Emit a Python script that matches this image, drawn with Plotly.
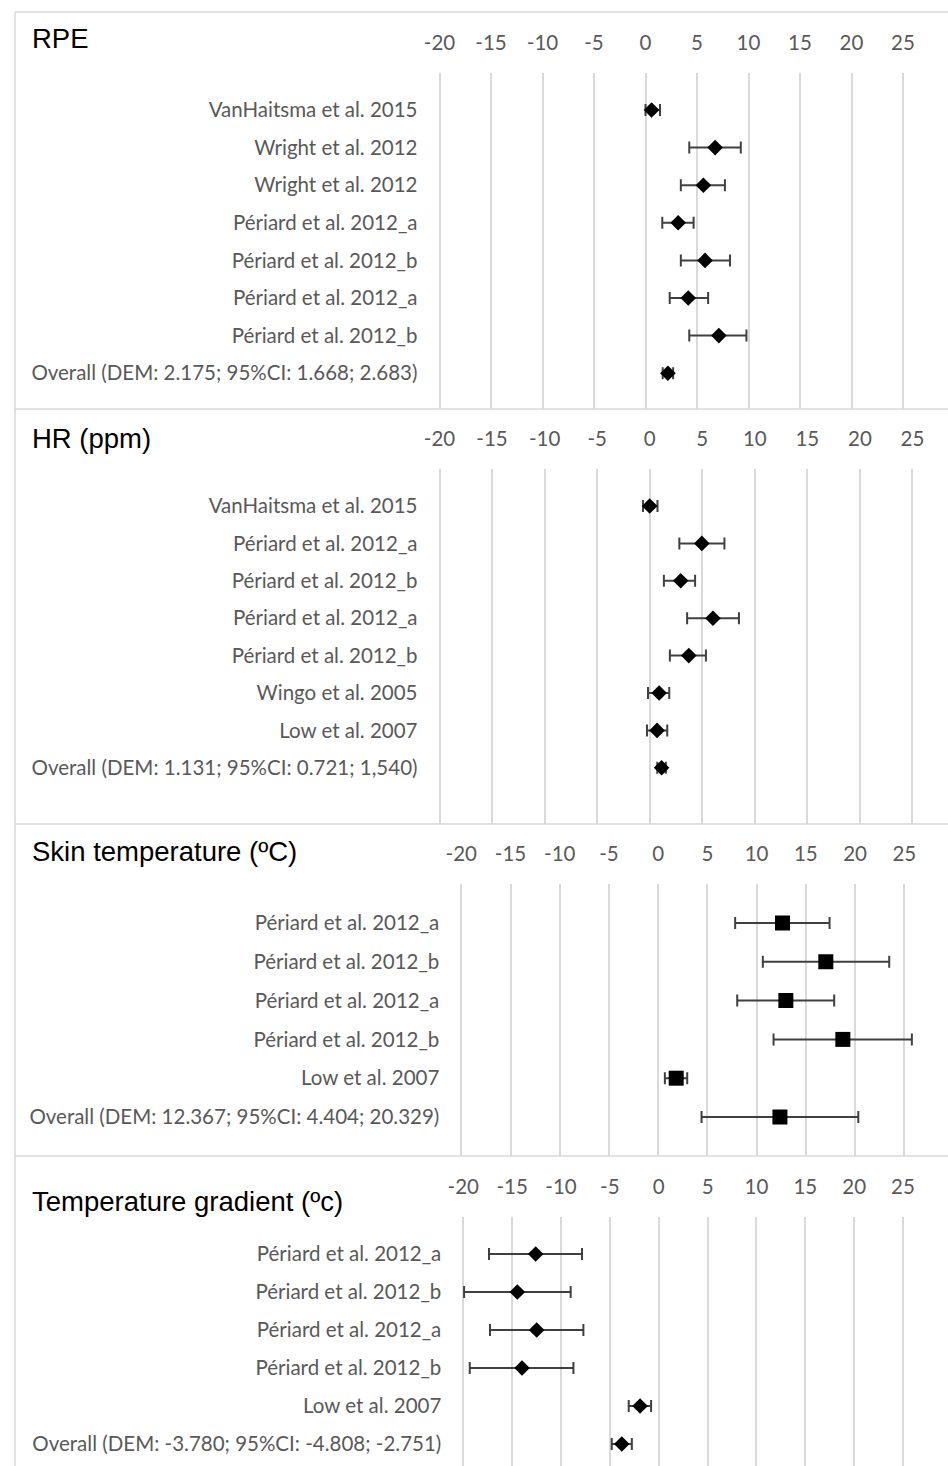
import plotly.graph_objects as go

W, H = 948, 1466

# ---------------- data ----------------
rpe_labels = ["VanHaitsma et al. 2015", "Wright et al. 2012", "Wright et al. 2012",
              "Périard et al. 2012_a", "Périard et al. 2012_b", "Périard et al. 2012_a",
              "Périard et al. 2012_b", "Overall (DEM: 2.175; 95%CI: 1.668; 2.683)"]
rpe_est = [0.59, 6.76, 5.62, 3.17, 5.78, 4.15, 7.12, 2.175]
rpe_lo = [0.0, 4.25, 3.43, 1.63, 3.43, 2.35, 4.25, 1.668]
rpe_hi = [1.41, 9.25, 7.71, 4.67, 8.20, 6.08, 9.80, 2.683]

hr_labels = ["VanHaitsma et al. 2015", "Périard et al. 2012_a", "Périard et al. 2012_b",
             "Périard et al. 2012_a", "Périard et al. 2012_b", "Wingo et al. 2005",
             "Low et al. 2007", "Overall (DEM: 1.131; 95%CI: 0.721; 1,540)"]
hr_est = [0.0, 4.96, 2.95, 6.02, 3.72, 0.90, 0.70, 1.131]
hr_lo = [-0.64, 2.82, 1.35, 3.56, 1.92, -0.16, -0.26, 0.721]
hr_hi = [0.74, 7.11, 4.32, 8.49, 5.35, 1.86, 1.67, 1.540]

skin_labels = ["Périard et al. 2012_a", "Périard et al. 2012_b", "Périard et al. 2012_a",
               "Périard et al. 2012_b", "Low et al. 2007",
               "Overall (DEM: 12.367; 95%CI: 4.404; 20.329)"]
skin_est = [12.63, 17.03, 12.97, 18.76, 1.83, 12.367]
skin_lo = [7.82, 10.63, 8.03, 11.72, 0.68, 4.404]
skin_hi = [17.41, 23.47, 17.88, 25.77, 2.95, 20.329]

grad_labels = ["Périard et al. 2012_a", "Périard et al. 2012_b", "Périard et al. 2012_a",
               "Périard et al. 2012_b", "Low et al. 2007",
               "Overall (DEM: -3.780; 95%CI: -4.808; -2.751)"]
grad_est = [-12.59, -14.47, -12.49, -13.99, -1.91, -3.780]
grad_lo = [-17.37, -19.92, -17.27, -19.34, -3.07, -4.808]
grad_hi = [-7.85, -9.01, -7.71, -8.73, -0.78, -2.751]

tick_vals = [-20, -15, -10, -5, 0, 5, 10, 15, 20, 25]
titles = ["RPE", "HR (ppm)", "Skin temperature (ºC)", "Temperature gradient (ºc)"]

# ---------------- layout geometry (pixels) ----------------
panels = [
    dict(labels=rpe_labels, est=rpe_est, lo=rpe_lo, hi=rpe_hi, symbol="diamond", msize=12,
         x20=439.5, ppu=10.30, top=72.7, bottom=409, row0=110, step=37.6, title_y=38),
    dict(labels=hr_labels, est=hr_est, lo=hr_lo, hi=hr_hi, symbol="diamond", msize=12,
         x20=439.5, ppu=10.51, top=469, bottom=824, row0=506, step=37.4, title_y=439),
    dict(labels=skin_labels, est=skin_est, lo=skin_lo, hi=skin_hi, symbol="square", msize=15,
         x20=461.3, ppu=9.844, top=884.3, bottom=1156, row0=923, step=38.8, title_y=851),
    dict(labels=grad_labels, est=grad_est, lo=grad_lo, hi=grad_hi, symbol="diamond", msize=12,
         x20=463.3, ppu=9.771, top=1216.7, bottom=1466, row0=1254, step=38.0, title_y=1201),
]

LABEL_FONT = dict(family="Lato", size=20.5, color="#595959")
GRID = "#d9d9d9"

fig = go.Figure()
layout = dict(width=W, height=H, margin=dict(l=0, r=0, t=0, b=0),
              paper_bgcolor="white", plot_bgcolor="white", showlegend=False)

for i, p in enumerate(panels):
    k = "" if i == 0 else str(i + 1)
    n = len(p["labels"])
    ys = list(range(n))
    err_plus = [h - e for h, e in zip(p["hi"], p["est"])]
    err_minus = [e - l for e, l in zip(p["est"], p["lo"])]
    fig.add_trace(go.Scatter(
        x=p["est"], y=ys, mode="markers", xaxis="x" + k, yaxis="y" + k,
        marker=dict(symbol=p["symbol"], size=p["msize"], color="black", line=dict(width=0)),
        error_x=dict(type="data", symmetric=False, array=err_plus, arrayminus=err_minus,
                     color="#404040", thickness=2, width=6),
    ))
    left_px = p["x20"] - 2
    xmin = -20 - 2 / p["ppu"]
    xmax = -20 + (W - p["x20"]) / p["ppu"]
    ytop = (p["top"] - p["row0"]) / p["step"]
    ybot = (p["bottom"] - p["row0"]) / p["step"]
    layout["xaxis" + k] = dict(
        domain=[left_px / W, 1.0], range=[xmin, xmax], anchor="y" + k, side="top",
        tickvals=tick_vals, ticktext=[str(v) for v in tick_vals], tickfont=LABEL_FONT,
        showgrid=True, gridcolor=GRID, gridwidth=1.5, zeroline=False, showline=False,
        ticks="", ticklabelstandoff=18, automargin=False, fixedrange=True,
    )
    layout["yaxis" + k] = dict(
        domain=[1 - p["bottom"] / H, 1 - p["top"] / H], range=[ybot, ytop], anchor="x" + k,
        tickvals=ys, ticktext=p["labels"], tickfont=LABEL_FONT, showgrid=False,
        zeroline=False, showline=False, ticks="", ticklabelstandoff=19, automargin=False,
        fixedrange=True,
    )

annotations = []
for p, t in zip(panels, titles):
    annotations.append(dict(text=t, x=30 / W, y=1 - p["title_y"] / H, xref="paper", yref="paper",
                            xanchor="left", yanchor="middle", showarrow=False,
                            font=dict(family="Liberation Sans", size=27.5, color="black")))
layout["annotations"] = annotations

shapes = []
for yy in [12, 409, 824, 1156]:
    shapes.append(dict(type="line", xref="paper", yref="paper", x0=15 / W, x1=1.0,
                       y0=1 - yy / H, y1=1 - yy / H, line=dict(color=GRID, width=1.5)))
shapes.append(dict(type="line", xref="paper", yref="paper", x0=15 / W, x1=15 / W,
                   y0=0, y1=1 - 12 / H, line=dict(color=GRID, width=1.5)))
layout["shapes"] = shapes

fig.update_layout(**layout)
fig.write_html("out.html", config={"displayModeBar": False},
               post_script="document.body.style.margin='0';")
